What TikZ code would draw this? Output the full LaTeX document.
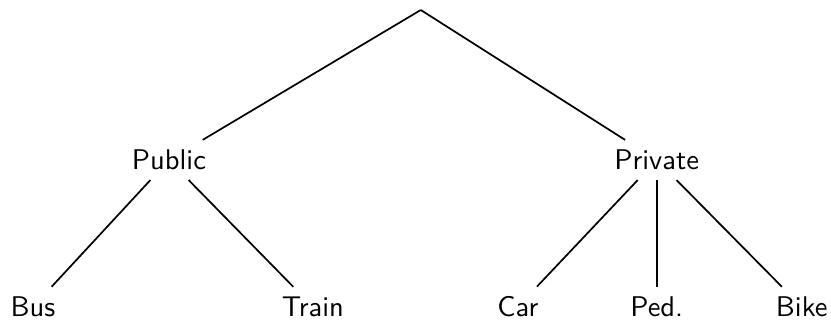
\documentclass[tikz,border=0pt]{standalone}
\begin{document}
\begin{tikzpicture}[
  font=\sffamily,
  tnode/.style={inner sep=3.33pt},
  edge/.style={semithick, draw=black}
]
  \useasboundingbox (0,0) rectangle (10.25,-3.946);

  % Raíz
  \coordinate (root) at (5.19,-0.123);

  % Nodos
  \node[tnode] (public)  at (2.084,-1.973) {Public};
  \node[tnode] (private) at (8.10,-1.973)  {Private};
  \node[tnode] (bus)     at (0.407,-3.785) {Bus};
  \node[tnode] (train)   at (3.86,-3.785)  {Train};
  \node[tnode] (car)     at (6.387,-3.785) {Car};
  \node[tnode] (ped)     at (8.10,-3.785)  {Ped.};
  \node[tnode] (bike)    at (9.889,-3.785) {Bike};

  % Aristas
  \foreach \c in {public,private} {
    \draw[edge] (root) -- (\c);
  }
  \foreach \c in {bus,train} {
    \draw[edge] (public) -- (\c);
  }
  \foreach \c in {car,ped,bike} {
    \draw[edge] (private) -- (\c);
  }
\end{tikzpicture}
\end{document}
